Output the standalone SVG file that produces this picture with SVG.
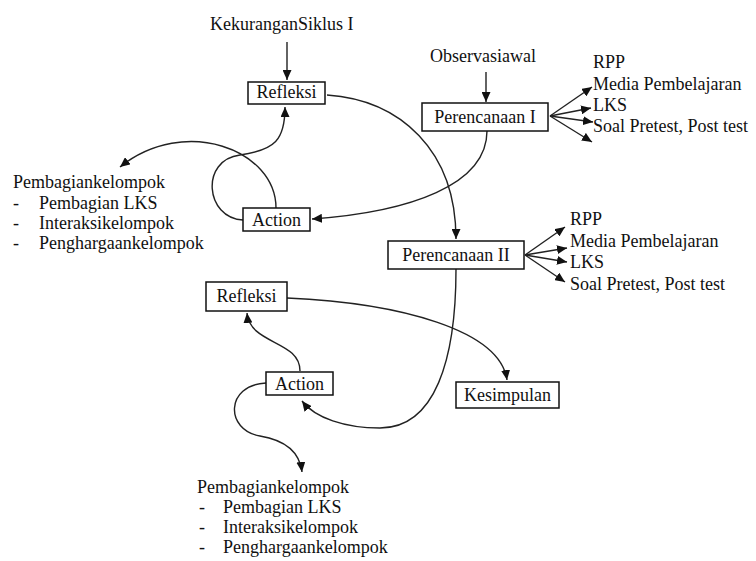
<svg xmlns="http://www.w3.org/2000/svg" width="756" height="561" viewBox="0 0 756 561">
<defs>
<marker id="ah" markerUnits="userSpaceOnUse" markerWidth="11" markerHeight="9" refX="10" refY="4.5" orient="auto">
<path d="M0,0 L10,4.5 L0,9 z" fill="#111"/>
</marker>
<style>
text{font-family:"Liberation Serif","Times New Roman",serif;font-size:18px;fill:#111}
.c{text-anchor:middle}
.b{fill:#fff;stroke:#111;stroke-width:1.5}
.e{fill:none;stroke:#222;stroke-width:1.4;marker-end:url(#ah)}
</style>
</defs>
<rect width="756" height="561" fill="#fff"/>
<g id="connectors">
<path class="e" d="M287,42 L287,80"/>
<path class="e" d="M486,72 L486,102"/>
<path class="e" d="M327,95 C400,100 456,150 456,239"/>
<path class="e" d="M487,131 C487,185 410,212 312,219"/>
<path class="e" d="M276,208 C276,150 185,115 120,167"/>
<path class="e" d="M243,220 C205,218 200,160 240,155 C275,150 285,140 285,107"/>
<path class="e" d="M550,116 L592,87"/>
<path class="e" d="M550,116 L591,108"/>
<path class="e" d="M550,116 L593,122"/>
<path class="e" d="M550,116 L592,142"/>
<path class="e" d="M525,255 L565,227"/>
<path class="e" d="M525,255 L567,248"/>
<path class="e" d="M525,255 L567,262"/>
<path class="e" d="M525,255 L565,282"/>
<path class="e" d="M456,269 C456,360 435,428 380,428 C345,428 315,418 302,401"/>
<path class="e" d="M287,298 C400,303 500,330 507,380"/>
<path class="e" d="M300,371 C300,340 250,345 247,313"/>
<path class="e" d="M266,383 C225,385 225,430 260,436 C290,441 300,455 302,472"/>
</g>
<g id="kekurangan"><text x="210" y="30">KekuranganSiklus I</text></g>
<g id="observasi"><text x="430" y="62">Observasiawal</text></g>
<g id="refleksi1"><rect class="b" x="248" y="82" width="77" height="22"/><text class="c" x="286.5" y="98">Refleksi</text></g>
<g id="action1"><rect class="b" x="243" y="208" width="67" height="23"/><text class="c" x="276.5" y="226">Action</text></g>
<g id="perencanaan1"><rect class="b" x="422" y="103" width="126" height="28"/><text class="c" x="485" y="123">Perencanaan I</text></g>
<g id="perencanaan2"><rect class="b" x="388" y="241" width="136" height="28"/><text class="c" x="456" y="261">Perencanaan II</text></g>
<g id="refleksi2"><rect class="b" x="206" y="282" width="81" height="29"/><text class="c" x="246.5" y="302">Refleksi</text></g>
<g id="action2"><rect class="b" x="266" y="372" width="67" height="23"/><text class="c" x="299.5" y="390">Action</text></g>
<g id="kesimpulan"><rect class="b" x="456" y="382" width="103" height="26"/><text class="c" x="507.5" y="401">Kesimpulan</text></g>
<g id="list-p1">
<text x="593" y="68">RPP</text>
<text x="593" y="90">Media Pembelajaran</text>
<text x="593" y="111">LKS</text>
<text x="593" y="132">Soal Pretest, Post test</text>
</g>
<g id="list-p2">
<text x="570" y="225">RPP</text>
<text x="570" y="247">Media Pembelajaran</text>
<text x="570" y="268">LKS</text>
<text x="570" y="290">Soal Pretest, Post test</text>
</g>
<g id="kelompok1">
<text x="13" y="188">Pembagiankelompok</text>
<text x="13" y="209">-</text><text x="39" y="209">Pembagian LKS</text>
<text x="13" y="229">-</text><text x="39" y="229">Interaksikelompok</text>
<text x="13" y="249">-</text><text x="39" y="249">Penghargaankelompok</text>
</g>
<g id="kelompok2">
<text x="197" y="493">Pembagiankelompok</text>
<text x="199" y="513">-</text><text x="223" y="513">Pembagian LKS</text>
<text x="199" y="533">-</text><text x="223" y="533">Interaksikelompok</text>
<text x="199" y="553">-</text><text x="223" y="553">Penghargaankelompok</text>
</g>
</svg>
